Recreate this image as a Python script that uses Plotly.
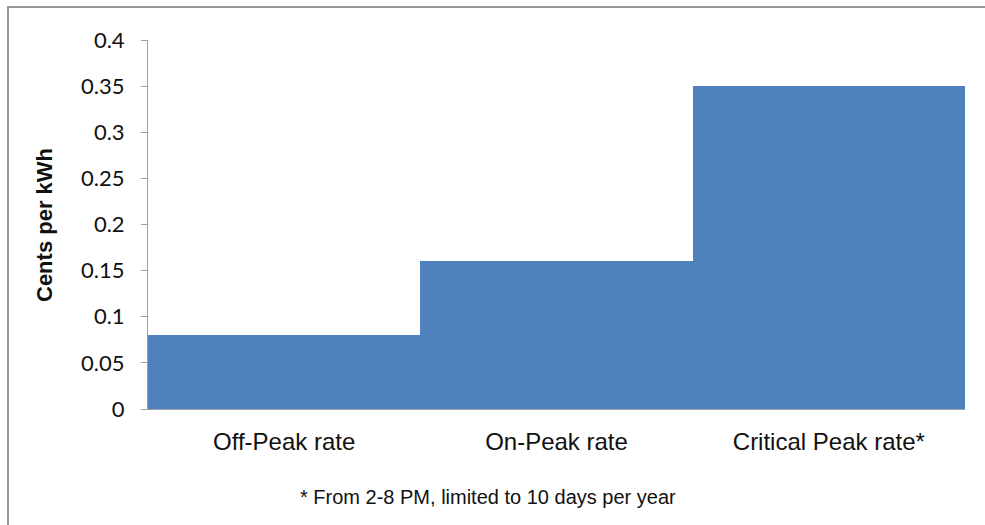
import plotly.graph_objects as go

categories = ["Off-Peak rate", "On-Peak rate", "Critical Peak rate*"]
rates = [0.08, 0.16, 0.35]
y_ticks = [0, 0.05, 0.1, 0.15, 0.2, 0.25, 0.3, 0.35, 0.4]
y_tick_labels = ["0", "0.05", "0.1", "0.15", "0.2", "0.25", "0.3", "0.35", "0.4"]
footnote = "* From 2-8 PM, limited to 10 days per year"
y_title = "Cents per kWh"

W, H = 985, 525
L, R, T, B = 148, 20, 40, 116
pw, ph = W - L - R, H - T - B


def px_x(p):
    return (p - L) / pw


def px_y(p):
    return (H - B - p) / ph


fig = go.Figure(
    go.Bar(
        x=categories,
        y=rates,
        width=1,
        marker=dict(color="#4F81BD", line=dict(width=0)),
        hoverinfo="x+y",
    )
)

fig.update_layout(
    width=W,
    height=H,
    margin=dict(l=L, r=R, t=T, b=B),
    paper_bgcolor="white",
    plot_bgcolor="white",
    bargap=0,
    showlegend=False,
    xaxis=dict(
        showline=True,
        linecolor="#A0A0A0",
        linewidth=1,
        ticks="",
        showgrid=False,
        tickfont=dict(family="Liberation Sans, Arial, sans-serif", size=24, color="#111"),
        ticklabelstandoff=11,
    ),
    yaxis=dict(
        range=[0, 0.4],
        tickvals=y_ticks,
        ticktext=y_tick_labels,
        showline=True,
        linecolor="#A0A0A0",
        linewidth=1,
        ticks="outside",
        ticklen=6,
        tickcolor="#A0A0A0",
        showgrid=False,
        zeroline=False,
        tickfont=dict(family="Lato, Open Sans, sans-serif", size=22, color="#111"),
        ticklabelstandoff=12,
    ),
    annotations=[
        dict(
            text=f"<b>{y_title}</b>",
            xref="paper", yref="paper",
            x=px_x(45), y=px_y(225),
            xanchor="center", yanchor="middle",
            textangle=-90,
            showarrow=False,
            font=dict(family="Liberation Sans, Arial, sans-serif", size=22, color="#111"),
        ),
        dict(
            text=footnote,
            xref="paper", yref="paper",
            x=px_x(488), y=px_y(497),
            xanchor="center", yanchor="middle",
            showarrow=False,
            font=dict(family="Liberation Sans, Arial, sans-serif", size=20, color="#111"),
        ),
    ],
    shapes=[
        dict(
            type="rect",
            xref="paper", yref="paper",
            x0=px_x(8), x1=px_x(995),
            y0=px_y(535), y1=px_y(7),
            line=dict(color="#9A9A9A", width=2),
            fillcolor="rgba(0,0,0,0)",
            layer="below",
        )
    ],
)

fig.write_html("out.html")
